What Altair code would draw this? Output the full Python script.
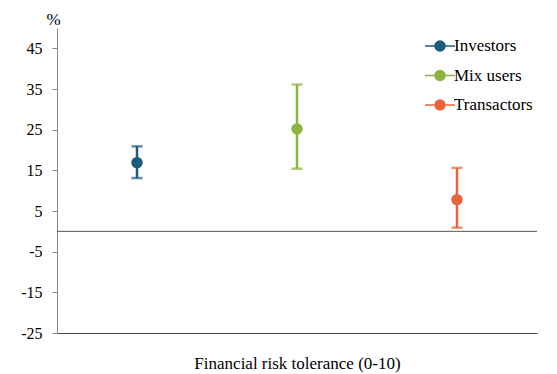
import altair as alt
import pandas as pd

groups = ["Investors", "Mix users", "Transactors"]
estimates = [16.9, 25.2, 7.8]
lower = [13.1, 15.4, 0.9]
upper = [20.9, 36.1, 15.6]
colors = ["#1F5B7D", "#8DB33F", "#E8643C"]
y_ticks = [45, 35, 25, 15, 5, -5, -15, -25]

df = pd.DataFrame({"group": groups, "est": estimates, "lo": lower, "hi": upper})
zero = pd.DataFrame({"z": [0]})

FONT = "Times New Roman"

x_axis = alt.Axis(title="Financial risk tolerance (0-10)", labels=False, ticks=False,
                  domain=True, domainColor="#444", titlePadding=22)
x = alt.X("group:N", sort=groups,
          scale=alt.Scale(paddingInner=0, paddingOuter=0), axis=x_axis)
color = alt.Color("group:N", sort=groups,
                  scale=alt.Scale(domain=groups, range=colors),
                  legend=alt.Legend(title=None, orient="none", legendX=372, legendY=7,
                                    symbolType="M -1.5 0 L -0.5 0 M 0.5 0 L 1.5 0 M -0.5 0 A 0.5 0.5 0 1 0 0.5 0 A 0.5 0.5 0 1 0 -0.5 0 Z",
                                    symbolSize=400, symbolStrokeWidth=1.5, symbolOpacity=1,
                                    rowPadding=10.5, labelOffset=3))

y_scale = alt.Scale(domain=[-25, 50], nice=False, zero=False)
y_axis = alt.Axis(title="%", values=y_ticks, grid=False, tickSize=5,
                  tickColor="#888", domainColor="#888", labelPadding=10,
                  labelExpr="toString(datum.value)",
                  titleAngle=0, titleX=-4, titleY=-4, titleAlign="center",
                  titleBaseline="alphabetic")

base = alt.Chart(df)

rules = base.mark_rule(strokeWidth=2.5).encode(
    x=x,
    y=alt.Y("lo:Q", scale=y_scale, axis=y_axis),
    y2="hi:Q",
    color=color,
)
caps_lo = base.mark_tick(size=11, thickness=2.5).encode(
    x=x, y=alt.Y("lo:Q", scale=y_scale, axis=y_axis), color=color)
caps_hi = base.mark_tick(size=11, thickness=2.5).encode(
    x=x, y=alt.Y("hi:Q", scale=y_scale, axis=y_axis), color=color)
points = base.mark_point(filled=True, size=130, opacity=1).encode(
    x=x, y=alt.Y("est:Q", scale=y_scale, axis=y_axis), color=color)
zero_line = alt.Chart(zero).mark_rule(color="#555", strokeWidth=1).encode(
    y=alt.Y("z:Q", scale=y_scale, axis=y_axis))

chart = alt.layer(rules, zero_line, caps_lo, caps_hi, points).properties(
    width=480, height=305,
    autosize=alt.AutoSizeParams(type="none"),
    padding={"left": 49, "top": 20, "right": 12, "bottom": 40},
    background="white",
).configure(font=FONT).configure_view(stroke=None).configure_axis(
    labelFont=FONT, labelFontSize=16, labelColor="#000",
    titleFont=FONT, titleFontSize=17, titleFontWeight="normal", titleColor="#000",
).configure_legend(
    labelFont=FONT, labelFontSize=17, labelColor="#000",
)

chart.save("out.html", embed_options={"renderer": "svg", "actions": False})
